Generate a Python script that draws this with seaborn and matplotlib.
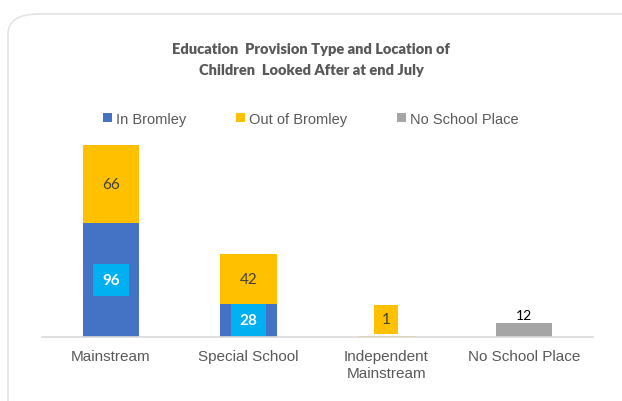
import matplotlib
matplotlib.use("Agg")
import matplotlib.pyplot as plt
import seaborn as sns
import pandas as pd
from matplotlib.patches import FancyBboxPatch, Patch

categories = ["Mainstream", "Special School", "Independent\nMainstream", "No School Place"]
in_bromley = [96, 28, 0, 0]
out_of_bromley = [66, 42, 1, 0]
no_school_place = [0, 0, 0, 12]
series_names = ["In Bromley", "Out of Bromley", "No School Place"]

c_blue = "#4472C4"
c_yellow = "#FFC000"
c_grey = "#A5A5A5"
c_cyan = "#00B0F0"
txt = "#595959"

sns.set_theme(style="white")
plt.rcParams['font.family'] = ['Liberation Sans', 'DejaVu Sans']

fig = plt.figure(figsize=(6.22, 4.02), dpi=100)
fig.patch.set_facecolor("white")
border = FancyBboxPatch((8/622, -0.2), 1.2, 1 - 15/402 + 0.2,
                        boxstyle="round,pad=0,rounding_size=0.05",
                        transform=fig.transFigure, facecolor="white",
                        edgecolor="#E3E3E3", linewidth=1.2, zorder=-5)
fig.patches.append(border)

ax = fig.add_axes([42/622, 1 - 338/402, 551/622, 198/402])
ax.set_zorder(2)
ax.set_facecolor("none")

totals = [a + b for a, b in zip(in_bromley, out_of_bromley)]
df = pd.DataFrame({"cat": categories, "inb": in_bromley, "tot": totals, "nsp": no_school_place})

for col, c in (("tot", c_yellow), ("inb", c_blue), ("nsp", c_grey)):
    sns.barplot(data=df, x="cat", y=col, color=c, saturation=1, width=0.41, ax=ax,
                order=categories, linewidth=0, edgecolor="none")

ax.set_xlim(-0.5, 3.5)
ax.set_ylim(0, 167)
ax.set_xlabel("")
ax.set_ylabel("")
ax.set_yticks([])
for s in ["top", "right", "left"]:
    ax.spines[s].set_visible(False)
ax.spines["bottom"].set_color("#D9D9D9")
ax.spines["bottom"].set_linewidth(1.2)
ax.tick_params(axis="x", length=0, pad=9, labelsize=11, labelcolor=txt)
for lab in ax.get_xticklabels():
    lab.set_linespacing(1.25)

lab_font = ['Lato', 'DejaVu Sans']
for i, (a, b, n) in enumerate(zip(in_bromley, out_of_bromley, no_school_place)):
    if a > 0:
        ax.text(i, a / 2 if a > 40 else a / 2 + 0.5, str(a), ha="center", va="center", color="white",
                fontsize=11, fontweight="bold", family=lab_font,
                bbox=dict(boxstyle="square,pad=0.58", facecolor=c_cyan, edgecolor="none"))
    if b > 5:
        ax.text(i, a + b / 2, str(b), ha="center", va="center", color="#404040",
                fontsize=11, family=lab_font)
    elif b > 0:
        ax.text(i, a + b + 14, str(b), ha="center", va="center", color="#404040",
                fontsize=11, family=lab_font,
                bbox=dict(boxstyle="square,pad=0.5", facecolor=c_yellow, edgecolor="none"))
    if n > 0:
        ax.text(i, n + 1.5, str(n), ha="center", va="bottom", color="black",
                fontsize=10, family=lab_font)

fig.text(0.5, 1 - 60/402, "Education  Provision Type and Location of\nChildren  Looked After at end July",
         ha="center", va="center", fontsize=10.5, fontweight="heavy", color=txt,
         family=['Lato', 'DejaVu Sans'], linespacing=1.65)

handles = [Patch(facecolor=c, edgecolor="none") for c in (c_blue, c_yellow, c_grey)]
fig.legend(handles, series_names, loc="center", bbox_to_anchor=(0.5, 1 - 120/402), ncol=3,
           frameon=False, fontsize=10.5, labelcolor=txt, handlelength=0.6, handleheight=0.6,
           handletextpad=0.3, columnspacing=3.4)

fig.savefig("out.png", dpi=100, facecolor="white")
